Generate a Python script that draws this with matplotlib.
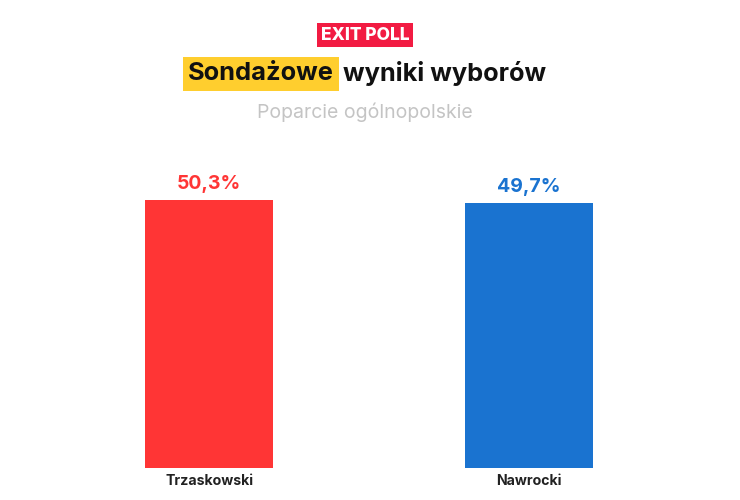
import matplotlib.pyplot as plt

candidates = ['Trzaskowski', 'Nawrocki']
support = [50.3, 49.7]
labels = ['50,3%', '49,7%']
colors = ['#FF3535', '#1A73D0']

plt.rcParams['font.family'] = ['Inter', 'DejaVu Sans']

fig = plt.figure(figsize=(7.4, 5), dpi=100)
ax = fig.add_axes([49 / 740, 32 / 500, 640 / 740, 268 / 500])

x = range(len(candidates))
ax.bar(x, support, width=0.4, color=colors)
ax.set_xlim(-0.5, 1.5)
ax.set_ylim(0, max(support))
for i, (v, lab, c) in enumerate(zip(support, labels, colors)):
    ax.annotate(lab, (i, v), xytext=(0, 5), textcoords='offset points',
                ha='center', va='bottom', fontsize=14, fontweight='bold', color=c)
    ax.annotate(candidates[i], (i, 0), xytext=(0, -4), textcoords='offset points',
                ha='center', va='top', fontsize=10.2, fontweight='bold', color='#222222')

ax.axis('off')
for a in ax.texts:
    a.set_clip_on(False)

# header
fig.text(0.493, 1 - 35 / 500, 'EXIT POLL', ha='center', va='center', fontsize=12.5,
         fontweight='heavy', color='white',
         bbox=dict(boxstyle='square,pad=0.2', fc='#F21B42', ec='none'))
fig.text(334 / 740, 1 - 74 / 500, 'Sondażowe', ha='right', va='center', fontsize=18.3,
         fontweight='bold', color='#111111',
         bbox=dict(boxstyle='square,pad=0.2', fc='#FFCE2E', ec='none'))
fig.text(343 / 740, 1 - 74 / 500, 'wyniki wyborów', ha='left', va='center', fontsize=18.3,
         fontweight='bold', color='#111111')
fig.text(0.493, 1 - 112 / 500, 'Poparcie ogólnopolskie', ha='center', va='center',
         fontsize=14, color='#C4C4C4')

fig.savefig('out.png', dpi=100, facecolor='white')
